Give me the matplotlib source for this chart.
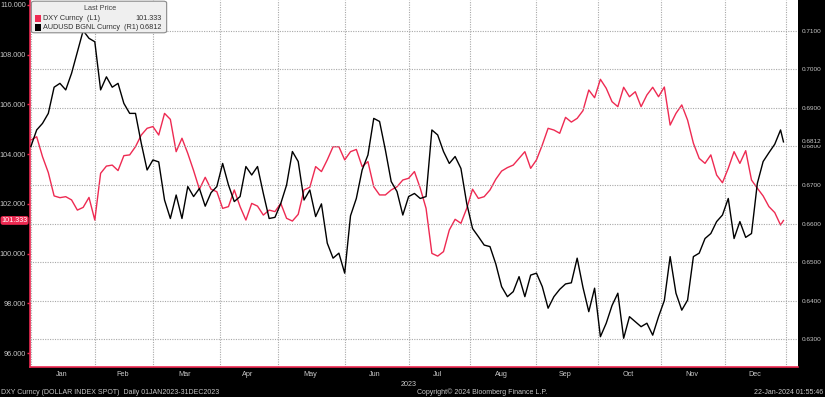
import numpy as np
import pandas as pd
import matplotlib
matplotlib.use("Agg")
import matplotlib.pyplot as plt
from matplotlib.patches import FancyBboxPatch, Rectangle
import matplotlib.transforms as mtransforms

# ---------------- data (every 2nd business day + last day) ----------------
dxy = [104.57, 104.70, 103.90, 103.26, 102.32, 102.25, 102.29, 102.16, 101.75, 101.86, 102.26, 101.35,
       103.23, 103.52, 103.56, 103.34, 103.94, 103.97, 104.30, 104.77, 105.04, 105.11,
       104.77, 105.64, 105.40, 104.10, 104.64, 104.03, 103.34, 102.59, 103.07, 102.59, 102.49, 101.82,
       101.89, 102.56, 101.89, 101.35, 102.02, 101.91, 101.55, 101.75, 101.69, 102.02,
       101.42, 101.31, 101.58, 102.56, 102.67, 103.50, 103.30, 103.77, 104.30, 104.30, 103.77, 104.10,
       104.19, 103.50, 103.70, 102.69, 102.36, 102.36, 102.56, 102.69, 102.96, 103.03,
       103.30, 102.63, 101.82, 100.01, 99.90, 100.08, 100.95, 101.38, 101.22, 101.82, 102.59, 102.22,
       102.29, 102.56, 102.99, 103.32, 103.46, 103.56, 103.83, 104.10, 103.43, 103.77,
       104.37, 105.04, 104.97, 104.84, 105.48, 105.29, 105.44, 105.75, 106.58, 106.27, 107.01, 106.65,
       106.11, 105.91, 106.69, 106.31, 106.51, 105.91, 106.38, 106.69, 106.31, 106.70,
       105.17, 105.64, 105.98, 105.37, 104.44, 103.83, 103.63, 103.97, 103.16, 102.85, 103.43, 104.10,
       103.63, 104.14, 102.96, 102.63, 102.32, 101.89, 101.65, 101.15,
       101.333]

aud = [0.6800, 0.6843, 0.6860, 0.6886, 0.6954, 0.6964, 0.6947, 0.6990, 0.7046, 0.7101, 0.7081, 0.7072,
       0.6947, 0.6981, 0.6954, 0.6964, 0.6912, 0.6886, 0.6886, 0.6808, 0.6739, 0.6765,
       0.6760, 0.6661, 0.6613, 0.6674, 0.6613, 0.6696, 0.6670, 0.6691, 0.6645, 0.6680, 0.6696, 0.6756,
       0.6700, 0.6657, 0.6670, 0.6748, 0.6726, 0.6748, 0.6678, 0.6613, 0.6616, 0.6652,
       0.6700, 0.6787, 0.6761, 0.6661, 0.6687, 0.6618, 0.6651, 0.6549, 0.6510, 0.6523, 0.6471, 0.6620,
       0.6665, 0.6739, 0.6778, 0.6873, 0.6865, 0.6791, 0.6709, 0.6683, 0.6622, 0.6670,
       0.6678, 0.6665, 0.6670, 0.6843, 0.6830, 0.6787, 0.6756, 0.6774, 0.6743, 0.6652, 0.6587, 0.6566,
       0.6544, 0.6540, 0.6495, 0.6436, 0.6410, 0.6423, 0.6462, 0.6410, 0.6466, 0.6471,
       0.6436, 0.6380, 0.6410, 0.6429, 0.6443, 0.6446, 0.6510, 0.6434, 0.6371, 0.6432, 0.6306, 0.6341,
       0.6387, 0.6419, 0.6302, 0.6358, 0.6345, 0.6332, 0.6341, 0.6310, 0.6358, 0.6400,
       0.6514, 0.6419, 0.6375, 0.6401, 0.6514, 0.6523, 0.6561, 0.6574, 0.6605, 0.6622, 0.6665, 0.6561,
       0.6605, 0.6564, 0.6574, 0.6704, 0.6761, 0.6784, 0.6806, 0.6843,
       0.6812]

months = ["Jan", "Feb", "Mar", "Apr", "May", "Jun", "Jul", "Aug", "Sep", "Oct", "Nov", "Dec"]
left_ticks = [96, 98, 100, 102, 104, 106, 108, 110]
right_ticks = [0.63, 0.64, 0.65, 0.66, 0.67, 0.68, 0.69, 0.70, 0.71]
dxy_name = "DXY Curncy  (L1)"
aud_name = "AUDUSD BGNL Curncy  (R1)"

# ---------------- x positions: business-day index (Bloomberg compresses weekends) ----------------
bdays = pd.bdate_range("2023-01-02", "2023-12-29")
n = len(bdays)
pos = list(range(0, n - 1, 2)) + [n - 1]
month_starts = [int(np.argmax(bdays.month == m)) for m in range(1, 13)] + [n]
month_centers = [(month_starts[k] + month_starts[k + 1]) / 2 - 0.5 for k in range(12)]

# ---------------- style ----------------
RED = "#ee2a52"
GREY = "#c8c8c8"
plt.rcParams["font.family"] = ["Liberation Sans", "DejaVu Sans"]
FS = 5.2
FSR = 4.6

W, H = 825, 397
fig = plt.figure(figsize=(W / 100, H / 100), dpi=100, facecolor="black")
ax1 = fig.add_axes([30 / W, 30 / H, 768 / W, 367 / H])
ax1.set_facecolor("white")
ax2 = ax1.twinx()

ax1.plot(pos, dxy, color=RED, lw=1.0, zorder=3)
ax2.plot(pos, aud, color="black", lw=1.0, zorder=3)

ax1.set_xlim(-0.3, 264)
ax1.set_ylim(95.44, 110.2)
ax2.set_ylim(0.62273, 0.71805)

# spines
for s in ["top", "right"]:
    ax1.spines[s].set_visible(False)
for s in ax2.spines.values():
    s.set_visible(False)
ax1.spines["left"].set_color(RED)
ax1.spines["bottom"].set_color(RED)
ax1.spines["left"].set_linewidth(1.2)
ax1.spines["bottom"].set_linewidth(1.2)

# left axis
ax1.set_yticks(left_ticks)
ax1.set_yticklabels([f"{v:.3f}" for v in left_ticks])
ax1.tick_params(axis="y", colors=RED, labelcolor=GREY, labelsize=FS, length=2.5, width=1, pad=0.5)

# right axis
ax2.set_yticks(right_ticks)
ax2.set_yticklabels([f"{v:.4f}" for v in right_ticks])
ax2.tick_params(axis="y", length=0, labelcolor=GREY, labelsize=FSR, pad=2.5)
ax2.yaxis.grid(True, color="#a8a8a8", lw=0.8, linestyle=(0, (1, 1.2)))
ax2.set_axisbelow(True)

# x axis: gridlines at month starts, labels at month centres
ax1.set_xticks(month_starts)
ax1.set_xticklabels([])
ax1.set_xticks(month_centers, minor=True)
ax1.set_xticklabels(months, minor=True)
ax1.tick_params(axis="x", which="both", length=0, labelcolor=GREY, labelsize=FS, pad=3)
ax1.xaxis.grid(True, which="major", color="#a8a8a8", lw=0.8, linestyle=(0, (1, 1.2)))
ax1.set_axisbelow(True)

# last value tags
tr1 = mtransforms.blended_transform_factory(ax1.transAxes, ax1.transData)
ax1.text(-0.003, dxy[-1], f"{dxy[-1]:.3f}", transform=tr1, ha="right", va="center",
         color="white", fontsize=FS, clip_on=False, zorder=10,
         bbox=dict(boxstyle="round,pad=0.12,rounding_size=0.3", fc=RED, ec="none"))
tr2 = mtransforms.blended_transform_factory(ax2.transAxes, ax2.transData)
ax2.text(1.0045, aud[-1], f"{aud[-1]:.4f}", transform=tr2, ha="left", va="center",
         color=GREY, fontsize=FSR, clip_on=False, zorder=10,
         bbox=dict(boxstyle="square,pad=0.1", fc="black", ec="none"))

# legend box (Bloomberg style)
fig.patches.append(FancyBboxPatch((33 / W, 1 - 32 / H), 132 / W, 30 / H,
                                  boxstyle="round,pad=0.002,rounding_size=0.004",
                                  transform=fig.transFigure, fc="#efefef", ec="#8a8a8a", lw=0.8,
                                  zorder=20))
fig.text(100 / W, 1 - 8 / H, "Last Price", ha="center", va="center", fontsize=FS,
         color="#404040", zorder=21)
fig.patches.append(Rectangle((35 / W, 1 - 21.5 / H), 6 / W, 6 / H, transform=fig.transFigure,
                             fc=RED, ec="none", zorder=21))
fig.patches.append(Rectangle((35 / W, 1 - 30.5 / H), 6 / W, 6 / H, transform=fig.transFigure,
                             fc="black", ec="none", zorder=21))
fig.text(43 / W, 1 - 18.5 / H, dxy_name, ha="left", va="center", fontsize=FS, color="#303030", zorder=21)
fig.text(43 / W, 1 - 27.5 / H, aud_name, ha="left", va="center", fontsize=FS, color="#303030", zorder=21)
fig.text(162 / W, 1 - 18.5 / H, f"{dxy[-1]:.3f}", ha="right", va="center", fontsize=FS,
         color="#303030", zorder=21)
fig.text(162 / W, 1 - 27.5 / H, f"{aud[-1]:.4f}", ha="right", va="center", fontsize=FS,
         color="#303030", zorder=21)

# year and footer
fig.text(409 / W, 1 - 384 / H, "2023", ha="center", va="center", fontsize=FS, color=GREY)
fig.text(1 / W, 1 - 392 / H, "DXY Curncy (DOLLAR INDEX SPOT)  Daily 01JAN2023-31DEC2023",
         ha="left", va="center", fontsize=5.0, color=GREY)
fig.text(417 / W, 1 - 392 / H, "Copyright\u00a9 2024 Bloomberg Finance L.P.",
         ha="left", va="center", fontsize=5.0, color=GREY)
fig.text(823 / W, 1 - 392 / H, "22-Jan-2024 01:55:46", ha="right", va="center",
         fontsize=5.0, color=GREY)

fig.savefig("out.png", dpi=100, facecolor="black")
